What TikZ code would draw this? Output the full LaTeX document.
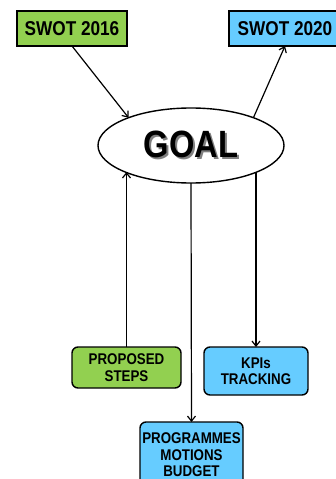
\documentclass[tikz,border=0pt]{standalone}
\usepackage{fontspec}
\setmainfont{Liberation Sans}[FakeStretch=0.86]
\usetikzlibrary{shapes.geometric,arrows.meta}
\definecolor{swotgreen}{RGB}{146,208,80}
\definecolor{swotblue}{RGB}{102,204,255}
\newcommand{\shadowed}[1]{\makebox[0pt][l]{\hspace{1.8pt}\raisebox{-1.8pt}{\color{gray}#1}}#1}

\begin{document}
\begin{tikzpicture}[x=1pt,y=-1pt,
  topbox/.style={draw,line width=1.4pt,font=\bfseries\fontsize{20}{22}\selectfont,inner sep=0pt,outer sep=0pt,minimum height=35pt},
  planbox/.style={draw,line width=1.4pt,rounded corners=6pt,align=center,inner sep=0pt,outer sep=0pt,font=\bfseries\fontsize{15.5}{16.5}\selectfont},
  arr/.style={line width=1.2pt,-{Straight Barb[length=5pt,width=8pt]}}]
  \useasboundingbox (0,0) rectangle (335,479);

  % SWOT boxes
  \node[topbox,fill=swotgreen,minimum width=110pt] (swotold) at (72,28.5) {SWOT 2016};
  \node[topbox,fill=swotblue,minimum width=112pt] (swotnew) at (285,28.5) {SWOT 2020};

  % Goal
  \node[draw,ellipse,line width=1.4pt,minimum width=186pt,minimum height=75pt,outer sep=0pt,
        font=\bfseries\fontsize{38}{40}\selectfont] (goal) at (191,145.5) {\shadowed{GOAL}};

  % Plan boxes
  \node[planbox,fill=swotgreen,minimum width=109pt,minimum height=41pt] (steps) at (126.5,367.5) {PROPOSED\\STEPS};
  \node[planbox,fill=swotblue,minimum width=104pt,minimum height=48pt] (kpi) at (256,371) {KPIs\\TRACKING};
  \node[planbox,fill=swotblue,minimum width=103pt,minimum height=66pt] (prog) at (191.5,455) {PROGRAMMES\\MOTIONS\\BUDGET};

  % Connectors
  \draw[arr] (swotold.south) -- (goal.156);
  \draw[arr] (goal.24) -- (swotnew.south);
  \draw[arr] (steps.north) -- (steps.north |- goal.202);
  \draw[arr] (goal.south) -- (prog.north);
  \draw[arr] (goal.-22 -| kpi.north) -- (kpi.north);
\end{tikzpicture}
\end{document}
